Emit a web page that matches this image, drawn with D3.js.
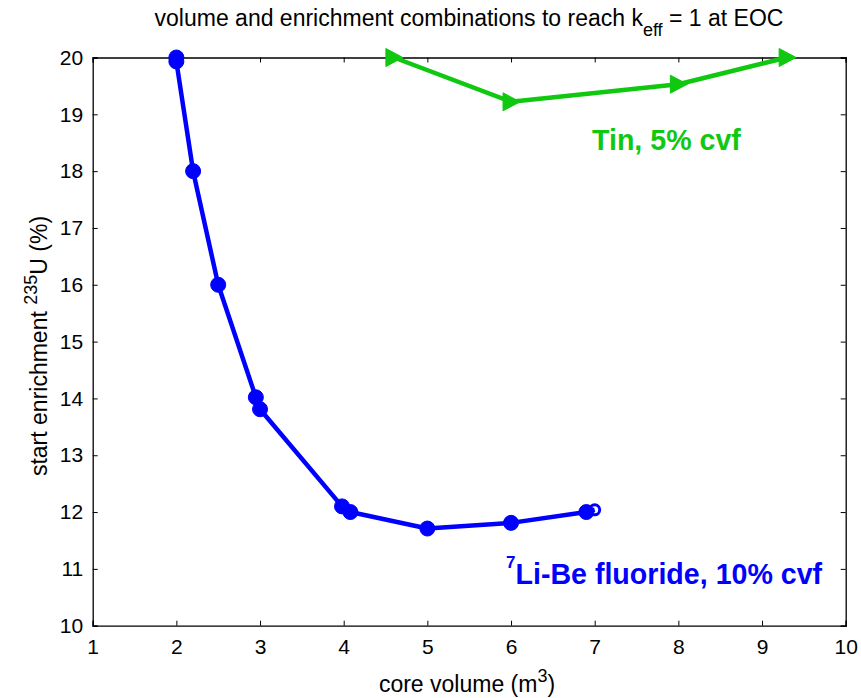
<!DOCTYPE html>
<html><head><meta charset="utf-8">
<script src="https://cdn.jsdelivr.net/npm/d3@7"></script>
<style>body{margin:0;background:#fff}svg{display:block}text{font-family:"Liberation Sans",Arial,sans-serif}</style>
</head><body>
<svg id="c" width="861" height="698"></svg>
<script>
const liBeX = [2, 2, 2.2, 2.5, 2.95, 3.0, 3.98, 4.08, 5.0, 6.0, 6.9, 7.0];
const liBeY = [20, 19.93, 18, 16, 14.02, 13.81, 12.1, 12.0, 11.71, 11.81, 12.0, 12.04];
const tinX = [4.6, 6.0, 8.0, 9.3];
const tinY = [20, 19.22, 19.53, 20];
const xTicks = [1,2,3,4,5,6,7,8,9,10];
const yTicks = [10,11,12,13,14,15,16,17,18,19,20];

const svg = d3.select("#c");
const L=92.7, R=845.7, T=57.5, B=625.7;
const x = d3.scaleLinear().domain([1,10]).range([L,R]);
const y = d3.scaleLinear().domain([10,20]).range([B,T]);
const blue="#0000ff", green="#10c810";

const g = svg.append("g");
const ax = g.append("g").attr("transform",`translate(0,${B})`).call(d3.axisBottom(x).tickValues(xTicks).tickSize(-5).tickPadding(13.5));
const ay = g.append("g").attr("transform",`translate(${L},0)`).call(d3.axisLeft(y).tickValues(yTicks).tickSize(-5).tickPadding(9.5));
const axT = g.append("g").attr("transform",`translate(0,${T})`).call(d3.axisTop(x).tickValues(xTicks).tickSize(-5).tickFormat(""));
const ayR = g.append("g").attr("transform",`translate(${R},0)`).call(d3.axisRight(y).tickValues(yTicks).tickSize(-5).tickFormat(""));
[ax,ay,axT,ayR].forEach(a=>{
  a.select(".domain").attr("stroke","#000").attr("stroke-width",1.3);
  a.selectAll(".tick line").attr("stroke","#000").attr("stroke-width",1);
  a.selectAll("text").attr("font-size",21).attr("fill","#000").attr("font-family","Liberation Sans, Arial, sans-serif");
});

const line = d3.line().x(d=>x(d[0])).y(d=>y(d[1]));
const liBe = liBeX.map((v,i)=>[v,liBeY[i]]);
const tin = tinX.map((v,i)=>[v,tinY[i]]);

svg.append("path").datum(liBe).attr("d",line).attr("fill","none").attr("stroke",blue).attr("stroke-width",4.5).attr("stroke-linejoin","round");
svg.selectAll(".lb").data(liBe).enter().append("circle")
  .attr("cx",d=>x(d[0])).attr("cy",d=>y(d[1])).attr("r",(d,i)=>i===liBe.length-1?5:7.5)
  .attr("fill",(d,i)=>i===liBe.length-1?"none":blue)
  .attr("stroke",blue).attr("stroke-width",(d,i)=>i===liBe.length-1?3:1);

svg.append("path").datum(tin).attr("d",line).attr("fill","none").attr("stroke",green).attr("stroke-width",4.5).attr("stroke-linejoin","round");
svg.selectAll(".tn").data(tin).enter().append("path")
  .attr("d","M-8,-9 L9,0 L-8,9 Z")
  .attr("transform",d=>`translate(${x(d[0])},${y(d[1])})`)
  .attr("fill",green).attr("stroke",green).attr("stroke-width",1);

// title
const title = svg.append("text").attr("x",469).attr("y",26).attr("text-anchor","middle").attr("font-size",23).attr("fill","#000");
title.append("tspan").text("volume and enrichment combinations to reach k");
title.append("tspan").attr("dy",10).attr("font-size",18).text("eff");
title.append("tspan").attr("dy",-10).text(" = 1 at EOC");

// x label
const xl = svg.append("text").attr("x",467).attr("y",692).attr("text-anchor","middle").attr("font-size",23).attr("fill","#000");
xl.append("tspan").text("core volume (m");
xl.append("tspan").attr("dy",-10).attr("font-size",18).text("3");
xl.append("tspan").attr("dy",10).text(")");

// y label
const yl = svg.append("text").attr("transform",`translate(46.5,346) rotate(-90)`).attr("text-anchor","middle").attr("font-size",23).attr("fill","#000");
yl.append("tspan").text("start enrichment ");
yl.append("tspan").attr("dy",-10).attr("font-size",18).text("235");
yl.append("tspan").attr("dy",10).text("U (%)");

// series labels
svg.append("text").attr("x",592).attr("y",150).attr("font-size",28.6).attr("font-weight","bold").attr("fill",green).text("Tin, 5% cvf");
const bl = svg.append("text").attr("x",506).attr("y",584).attr("font-size",28.6).attr("font-weight","bold").attr("fill",blue);
bl.append("tspan").attr("dy",-16).attr("font-size",17).text("7");
bl.append("tspan").attr("dy",16).text("Li-Be fluoride, 10% cvf");
</script>
</body></html>
